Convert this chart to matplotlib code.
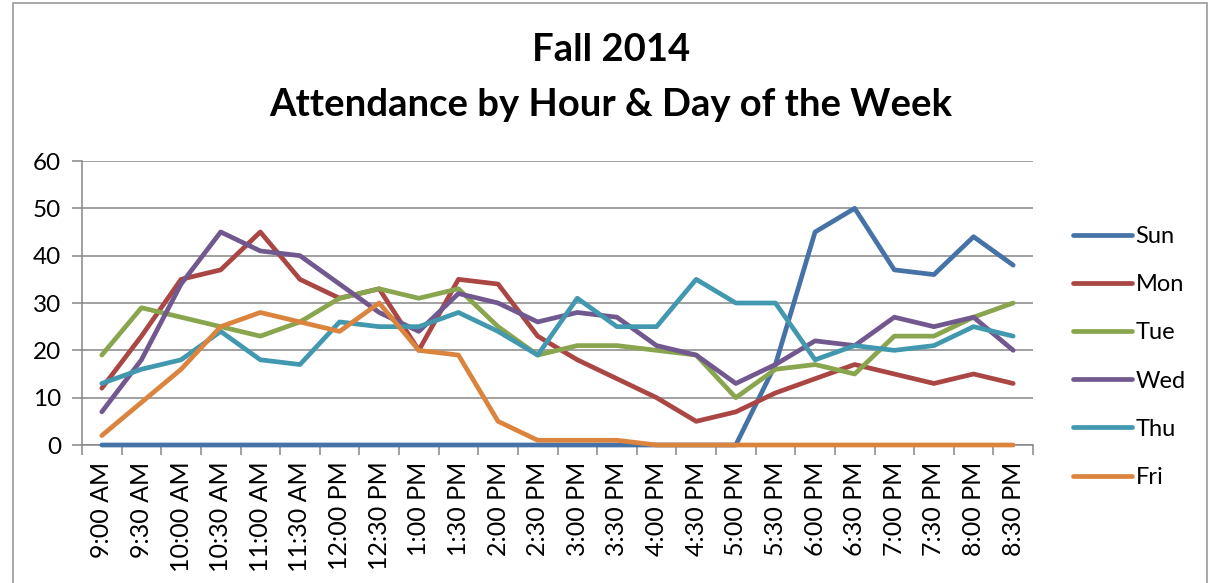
import matplotlib
matplotlib.use("Agg")
from matplotlib import pyplot as plt
from matplotlib.patches import Rectangle
import numpy as np

times = ["9:00 AM", "9:30 AM", "10:00 AM", "10:30 AM", "11:00 AM", "11:30 AM",
         "12:00 PM", "12:30 PM", "1:00 PM", "1:30 PM", "2:00 PM", "2:30 PM",
         "3:00 PM", "3:30 PM", "4:00 PM", "4:30 PM", "5:00 PM", "5:30 PM",
         "6:00 PM", "6:30 PM", "7:00 PM", "7:30 PM", "8:00 PM", "8:30 PM"]

sun = [0, 0, 0, 0, 0, 0, 0, 0, 0, 0, 0, 0, 0, 0, 0, 0, 0, 17, 45, 50, 37, 36, 44, 38]
mon = [12, 23, 35, 37, 45, 35, 31, 33, 20, 35, 34, 23, 18, 14, 10, 5, 7, 11, 14, 17, 15, 13, 15, 13]
tue = [19, 29, 27, 25, 23, 26, 31, 33, 31, 33, 25, 19, 21, 21, 20, 19, 10, 16, 17, 15, 23, 23, 27, 30]
wed = [7, 18, 34, 45, 41, 40, 34, 28, 24, 32, 30, 26, 28, 27, 21, 19, 13, 17, 22, 21, 27, 25, 27, 20]
thu = [13, 16, 18, 24, 18, 17, 26, 25, 25, 28, 24, 19, 31, 25, 25, 35, 30, 30, 18, 21, 20, 21, 25, 23]
fri = [2, 9, 16, 25, 28, 26, 24, 30, 20, 19, 5, 1, 1, 1, 0, 0, 0, 0, 0, 0, 0, 0, 0, 0]

days = ["Sun", "Mon", "Tue", "Wed", "Thu", "Fri"]
series = [sun, mon, tue, wed, thu, fri]
colors = ["#4572A7", "#AA4643", "#89A54E", "#71588F", "#4198AF", "#DB843D"]

plt.rcParams['font.family'] = ['Lato', 'DejaVu Sans']

fig = plt.figure(figsize=(12.15, 5.83), dpi=100)
ax = fig.add_axes([82 / 1215, 1 - 445 / 583, (1033 - 82) / 1215, (445 - 161) / 583])

x = np.arange(len(times))
for vals, day, col in zip(series, days, colors):
    ax.plot(x, vals, color=col, lw=3.4, label=day, solid_capstyle='round',
            solid_joinstyle='round', clip_on=False, zorder=3)

grid_c = "#868686"
ax.set_xlim(-0.5, len(times) - 0.5)
ax.set_ylim(0, 60)
ax.set_yticks(range(0, 61, 10))
ax.yaxis.grid(True, color=grid_c, lw=1.1)
ax.set_axisbelow(True)
ax.set_xticks(x)
ax.set_xticklabels(times, rotation=90, fontsize=18)
ax.set_xticks(np.arange(-0.5, len(times), 1), minor=True)
ax.tick_params(axis='x', which='major', length=0, pad=12)
ax.tick_params(axis='x', which='minor', length=7, color=grid_c, width=1.1, direction='out')
ax.tick_params(axis='y', length=7, color=grid_c, width=1.1, labelsize=17.5, pad=8)
for s in ['top', 'right']:
    ax.spines[s].set_visible(False)
for s in ['left', 'bottom']:
    ax.spines[s].set_color(grid_c)
    ax.spines[s].set_linewidth(1.1)

fig.text(611 / 1215, 1 - 50 / 583, "Fall 2014", ha='center', va='center',
         fontsize=27.5, fontweight='bold')
fig.text(611 / 1215, 1 - 105 / 583, "Attendance by Hour & Day of the Week", ha='center',
         va='center', fontsize=27.5, fontweight='bold')

fig.legend(loc='center left', bbox_to_anchor=(1073 / 1215, 1 - 357 / 583), frameon=False,
           fontsize=17, handlelength=2.5, handletextpad=0.15, labelspacing=1.15,
           borderpad=0, borderaxespad=0)

fig.patches.append(Rectangle((13 / 1215, -0.05), (1207 - 13) / 1215, 1.05 - 3 / 583,
                             transform=fig.transFigure, fill=False, edgecolor="#9a9a9a", lw=1.2))

fig.savefig("out.png", dpi=100)
